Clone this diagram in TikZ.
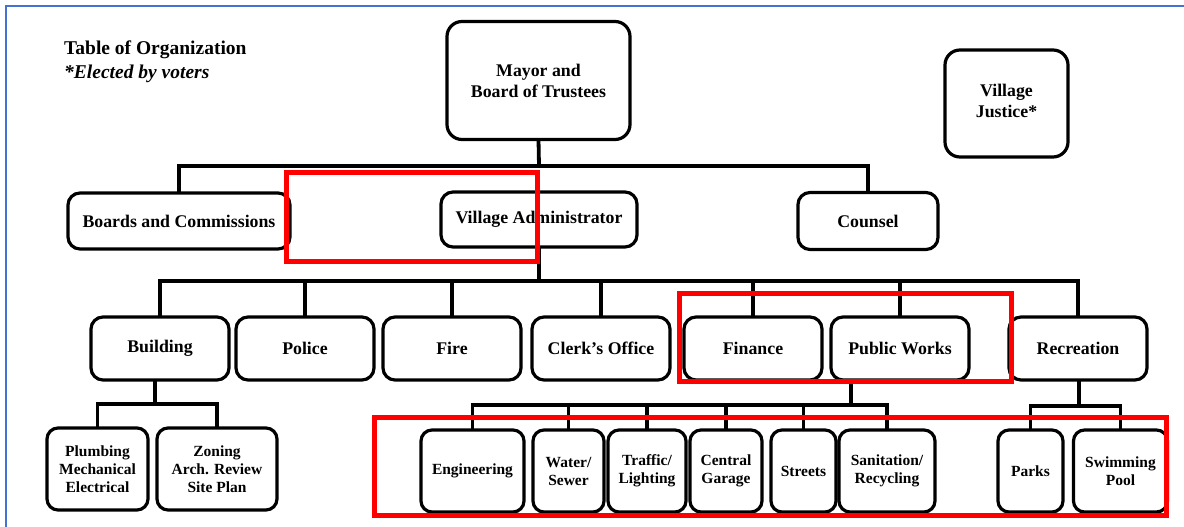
\documentclass[tikz,border=0pt]{standalone}
\usepackage{fontspec}
\setmainfont{Liberation Serif}
\definecolor{frameblue}{RGB}{68,114,210}
\begin{document}
\begin{tikzpicture}[x=1pt,y=-1pt,
  box/.style={draw, line width=3.2pt, rounded corners=12pt, align=center, inner sep=0pt, outer sep=0pt,
    font=\bfseries\fontsize{17.8}{21}\selectfont},
  small/.style={box, rounded corners=11pt, font=\bfseries\fontsize{15.5}{18}\selectfont},
  conn/.style={line width=3.8pt},
  hilite/.style={draw=red, line width=5pt}]
\useasboundingbox (0,0) rectangle (1184,527);
\fill[white] (0,0) rectangle (1184,527);
\draw[frameblue, line width=2pt] (6,527) -- (6,6) -- (1184,6);

% title
\node[anchor=base west, inner sep=0pt, font=\bfseries\fontsize{19.5}{22}\selectfont] (title) at (64,55) {Table of Organization};
\node[anchor=base west, inner sep=0pt, font=\bfseries\itshape\fontsize{19.5}{22}\selectfont] (note) at (64,78) {*Elected by voters};

% top level
\node[box, rounded corners=15pt, minimum width=183pt, minimum height=118pt] (mayor) at (538.5,80.5) {Mayor and\\Board of Trustees};
\node[box, rounded corners=15pt, minimum width=123pt, minimum height=107pt, text depth=5pt] (justice) at (1006.5,103.5) {Village\\Justice*};

% second level
\node[box, minimum width=222pt, minimum height=56pt] (boards) at (179,221) {Boards and Commissions};
\node[box, minimum width=196pt, minimum height=55pt] (va) at (539,219.5) {Village Administrator};
\node[box, minimum width=140pt, minimum height=57pt] (counsel) at (868,221) {Counsel};

% departments
\foreach \n/\x/\t in {building/160/Building, police/305/Police, fire/452/Fire,
  clerk/601/Clerk's Office, finance/753/Finance, pw/900/Public Works, recreation/1078/Recreation}
  \node[box, minimum width=138pt, minimum height=63pt] (\n) at (\x,348.5) {\t};

% sub units
\node[small, minimum width=101pt, minimum height=82pt] (plumbing) at (97.5,469) {Plumbing\\Mechanical\\Electrical};
\node[small, minimum width=120pt, minimum height=82pt] (zoning) at (217,469) {Zoning\\Arch. Review\\Site Plan};
\node[small, minimum width=103pt, minimum height=82pt] (eng) at (472.5,471) {Engineering};
\node[small, minimum width=71pt, minimum height=82pt] (water) at (568.5,471) {Water/\\Sewer};
\node[small, minimum width=78pt, minimum height=82pt] (traffic) at (647,471) {Traffic/\\Lighting};
\node[small, minimum width=72pt, minimum height=82pt] (central) at (726,471) {Central\\Garage};
\node[small, minimum width=65pt, minimum height=82pt] (streets) at (803.5,471) {Streets};
\node[small, minimum width=96pt, minimum height=82pt] (san) at (887,471) {Sanitation/\\Recycling};
\node[small, minimum width=65pt, minimum height=82pt] (parks) at (1030.5,471) {Parks};
\node[small, minimum width=94pt, minimum height=82pt] (pool) at (1120.5,471) {Swimming\\Pool};

% junctions
\coordinate (j1) at (539,166);
\coordinate (j2) at (539,281);
\coordinate (jb) at (155,404);
\coordinate (jp) at (851,405);
\coordinate (jr) at (1079,406);

% connectors
\draw[conn] (mayor.south) -- (j1);
\draw[conn] (boards.north) |- (j1) -| (counsel.north);
\draw[conn] (va.south) -- (j2);
\draw[conn] (building.north) |- (j2) -| (recreation.north);
\foreach \n in {police, fire, clerk, finance, pw}
  \draw[conn] (\n.north) -- (\n.north |- j2);
\draw[conn] (building.south -| jb) -- (jb);
\draw[conn] (plumbing.north) |- (jb) -| (zoning.north);
\draw[conn] (pw.south -| jp) -- (jp);
\draw[conn] (eng.north) |- (jp) -| (san.north);
\foreach \n in {water, traffic, central, streets}
  \draw[conn] (\n.north) -- (\n.north |- jp);
\draw[conn] (recreation.south -| jr) -- (jr);
\draw[conn] (parks.north) |- (jr) -| (pool.north);

% red highlights
\draw[hilite] (286,172) rectangle (537,261);
\draw[hilite] (679,293) rectangle (1011,381);
\draw[hilite] (374,417) rectangle (1166,515);
\end{tikzpicture}
\end{document}
